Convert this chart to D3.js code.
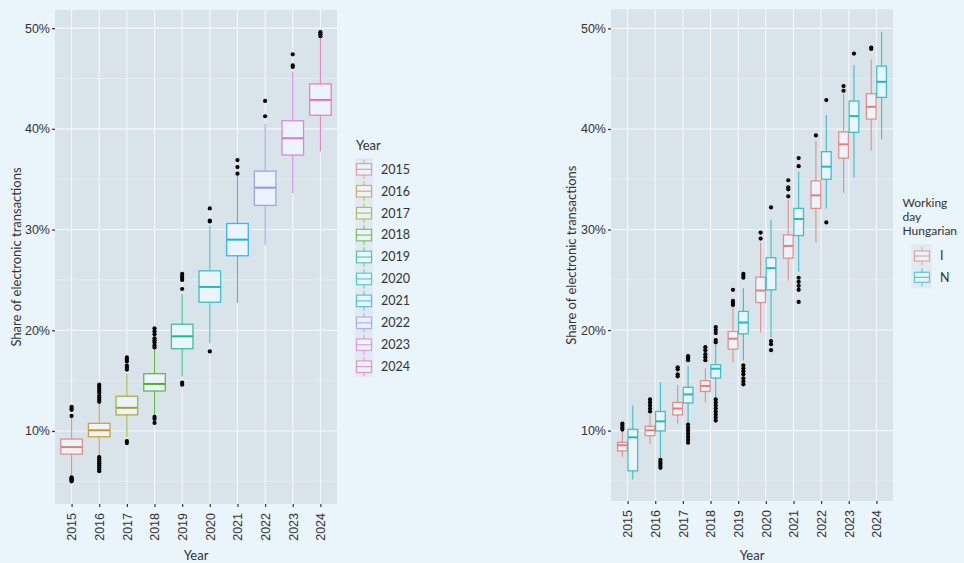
<!DOCTYPE html>
<html lang="en">
<head>
<meta charset="UTF-8">
<title>Share of electronic transactions</title>
<script src="https://d3js.org/d3.v7.min.js"></script>
<style>
    body { margin: 0; background: #EAF4FB; }
    svg { display: block; font-family: Lato, "Open Sans", sans-serif; }
</style>
</head>
<body>
<svg id="chart" width="964" height="563"></svg>
<script>
// ---- data (percent) ----
const years = ["2015","2016","2017","2018","2019","2020","2021","2022","2023","2024"];
const yearColors = ["#F8766D","#D89000","#A3A500","#39B600","#00BF7D","#00BFC4","#00B0F6","#9590FF","#E76BF3","#FF62BC"];
// [lower whisker, q1, median, q3, upper whisker]
const yearStats = [
    [5.6, 7.7, 8.4, 9.2, 11.3],
    [7.45, 9.43, 10.07, 10.76, 12.75],
    [9.4, 11.6, 12.3, 13.45, 15.7],
    [11.6, 13.97, 14.67, 15.69, 18.1],
    [15.4, 18.17, 19.4, 20.6, 23.6],
    [18.7, 22.78, 24.3, 25.9, 30.4],
    [22.7, 27.4, 29.0, 30.6, 35.3],
    [28.5, 32.4, 34.16, 35.8, 40.5],
    [33.6, 37.4, 39.07, 40.8, 45.7],
    [37.74, 41.35, 42.87, 44.46, 49.1]
];
const yearOutliers = [
    [12.4, 12.2, 12.1, 11.5, 5.4, 5.3, 5.2, 5.1, 5.0],
    [14.6, 14.4, 14.2, 14.0, 13.8, 13.5, 13.3, 13.1, 12.9, 7.4, 7.2, 7.0, 6.8, 6.6, 6.4, 6.2, 6.0],
    [17.3, 17.1, 16.9, 16.5, 16.3, 16.1, 9.0, 8.8],
    [20.2, 19.9, 19.6, 19.2, 19.0, 18.8, 18.5, 18.3, 11.4, 11.2, 10.8],
    [25.6, 25.4, 25.2, 25.0, 24.1, 14.8, 14.6],
    [32.1, 30.9, 30.8, 17.9],
    [36.9, 36.2, 35.55],
    [42.77, 41.25],
    [47.4, 46.3, 46.15],
    [49.6, 49.4, 49.2]
];

const dayGroups = ["I","N"];
const dayColors = ["#F8766D","#00BFC4"];
const dayStatsI = [
    [7.4, 7.98, 8.54, 8.84, 9.93],
    [8.7, 9.5, 10.03, 10.43, 11.6],
    [10.7, 11.56, 12.2, 12.8, 14.57],
    [12.8, 13.9, 14.44, 14.97, 16.2],
    [16.78, 18.1, 19.14, 19.86, 22.3],
    [19.76, 22.74, 23.93, 25.26, 28.7],
    [24.9, 27.15, 28.37, 29.46, 32.94],
    [28.7, 32.1, 33.4, 34.83, 38.8],
    [33.66, 37.1, 38.47, 39.7, 43.5],
    [37.84, 40.98, 42.2, 43.5, 46.9]
];
const dayStatsN = [
    [5.13, 6.0, 9.33, 10.13, 12.5],
    [7.12, 9.97, 10.92, 11.9, 14.8],
    [10.76, 12.75, 13.6, 14.3, 16.45],
    [13.25, 15.23, 16.16, 16.55, 18.7],
    [16.98, 19.63, 20.75, 21.85, 24.17],
    [19.2, 24.0, 26.16, 27.2, 31.0],
    [25.8, 29.4, 31.05, 32.1, 35.75],
    [32.1, 35.0, 36.25, 37.74, 41.38],
    [35.2, 39.66, 41.28, 42.77, 46.35],
    [38.97, 43.14, 44.69, 46.25, 49.66]
];
const dayOutliersI = [
    [10.7, 10.5, 10.3, 10.1],
    [13.1, 12.8, 12.5, 12.2, 11.9],
    [16.3, 16.1, 15.6, 15.4],
    [18.3, 18.0, 17.6, 17.3, 17.0],
    [24.0, 22.9, 22.7, 22.5],
    [29.7, 29.1],
    [34.9, 34.2, 34.0, 33.3],
    [39.36],
    [44.26, 43.8],
    [48.1, 47.95]
];
const dayOutliersN = [
    [],
    [7.1, 6.9, 6.7, 6.5, 6.3],
    [17.4, 17.2, 17.0, 10.6, 10.3, 10.0, 9.7, 9.4, 9.1, 8.8],
    [20.3, 20.0, 19.7, 19.0, 18.8, 13.1, 12.8, 12.5, 12.2, 11.9, 11.6, 11.3, 11.0],
    [25.6, 25.4, 25.2, 16.5, 16.2, 15.9, 15.6, 15.2, 14.9, 14.6],
    [32.2, 18.9, 18.6, 18.0],
    [37.1, 36.3, 25.2, 24.8, 24.4, 24.0, 22.8],
    [42.87, 30.7],
    [47.5],
    []
];
const majorTicks = [10, 20, 30, 40, 50];
const minorTicks = [5, 15, 25, 35, 45];

// ---- drawing ----
const svg = d3.select('#chart');
const panelFill = '#D9E3EA';
const boxFill = '#EBF4FB';
const textCol = '#333333';
// the reference strokes look a bit washed out
const mute = c => d3.interpolateRgb(c, '#9aa3ab')(0.22);

function panel(x0, x1, y0, y1, yDomain) {
    const x = d3.scalePoint().domain(years).range([x0, x1]).padding(0.6);
    const y = d3.scaleLinear().domain(yDomain).range([y1, y0]);
    const g = svg.append('g');
    g.append('rect').attr('x', x0).attr('y', y0).attr('width', x1 - x0).attr('height', y1 - y0).attr('fill', panelFill);
    g.selectAll('line.minor').data(minorTicks).join('line').attr('class', 'minor')
        .attr('x1', x0).attr('x2', x1).attr('y1', d => y(d)).attr('y2', d => y(d))
        .attr('stroke', '#EEF3F7').attr('stroke-width', 0.6);
    g.selectAll('line.major').data(majorTicks).join('line').attr('class', 'major')
        .attr('x1', x0).attr('x2', x1).attr('y1', d => y(d)).attr('y2', d => y(d))
        .attr('stroke', '#F4F8FB').attr('stroke-width', 1.1);
    g.selectAll('line.vmajor').data(years).join('line').attr('class', 'vmajor')
        .attr('x1', d => x(d)).attr('x2', d => x(d)).attr('y1', y0).attr('y2', y1)
        .attr('stroke', '#F4F8FB').attr('stroke-width', 1.1);

    // axes
    const yAxis = d3.axisLeft(y).tickValues(majorTicks).tickSize(3).tickPadding(2).tickFormat(d => d + '%');
    const ya = svg.append('g').attr('transform', `translate(${x0},0)`).call(yAxis);
    const xAxis = d3.axisBottom(x).tickSize(3).tickPadding(4);
    const xa = svg.append('g').attr('transform', `translate(0,${y1})`).call(xAxis);
    [ya, xa].forEach(a => {
        a.select('.domain').remove();
        a.selectAll('.tick line').attr('stroke', textCol).attr('stroke-width', 1.2);
        a.selectAll('.tick text').attr('fill', textCol).attr('font-size', 12.5);
    });
    xa.selectAll('.tick text')
        .attr('transform', 'rotate(-90)')
        .attr('text-anchor', 'end')
        .attr('x', -9).attr('y', 0).attr('dy', '0.35em');
    return {x, y, g};
}

function drawBox(g, cx, w, s, outl, color, y) {
    const c = mute(color);
    const b = g.append('g');
    b.append('line').attr('x1', cx).attr('x2', cx).attr('y1', y(s[0])).attr('y2', y(s[1]))
        .attr('stroke', c).attr('stroke-opacity', 0.85).attr('stroke-width', 1.1);
    b.append('line').attr('x1', cx).attr('x2', cx).attr('y1', y(s[3])).attr('y2', y(s[4]))
        .attr('stroke', c).attr('stroke-opacity', 0.85).attr('stroke-width', 1.1);
    b.append('rect').attr('x', cx - w / 2).attr('y', y(s[3])).attr('width', w).attr('height', y(s[1]) - y(s[3]))
        .attr('fill', boxFill).attr('stroke', c).attr('stroke-opacity', 0.85).attr('stroke-width', 1.3);
    b.append('line').attr('x1', cx - w / 2).attr('x2', cx + w / 2).attr('y1', y(s[2])).attr('y2', y(s[2]))
        .attr('stroke', c).attr('stroke-width', 2);
    b.selectAll('circle').data(outl).join('circle')
        .attr('cx', cx).attr('cy', d => y(d)).attr('r', 2.1).attr('fill', '#000');
}

function legendKey(g, cx, cy, w, h, color) {
    const c = mute(color);
    g.append('line').attr('x1', cx).attr('x2', cx).attr('y1', cy - h / 2 - 4).attr('y2', cy + h / 2 + 4)
        .attr('stroke', c).attr('stroke-opacity', 0.7).attr('stroke-width', 1);
    g.append('rect').attr('x', cx - w / 2).attr('y', cy - h / 2).attr('width', w).attr('height', h)
        .attr('fill', boxFill).attr('stroke', c).attr('stroke-opacity', 0.7).attr('stroke-width', 1.2);
    g.append('line').attr('x1', cx - w / 2).attr('x2', cx + w / 2).attr('y1', cy).attr('y2', cy)
        .attr('stroke', c).attr('stroke-opacity', 0.7).attr('stroke-width', 1.2);
}

function axisTitles(x0, x1, y0, y1, yx) {
    svg.append('text').attr('x', (x0 + x1) / 2).attr('y', 560).attr('text-anchor', 'middle')
        .attr('font-size', 13).attr('fill', textCol).text('Year');
    svg.append('text').attr('transform', `translate(${yx},${(y0 + y1) / 2}) rotate(-90)`)
        .attr('text-anchor', 'middle').attr('dy', '0.35em')
        .attr('font-size', 13).attr('fill', textCol).text('Share of electronic transactions');
}

// left panel
{
    const L = panel(55, 337, 10, 504, [2.75, 51.8]);
    const bw = L.x.step() * 0.78;
    years.forEach((yr, i) => drawBox(L.g, L.x(yr), bw, yearStats[i], yearOutliers[i], yearColors[i], L.y));
    axisTitles(55, 337, 10, 504, 16);

    const lg = svg.append('g');
    lg.append('text').attr('x', 356).attr('y', 150).attr('font-size', 13).attr('fill', textCol).text('Year');
    lg.append('rect').attr('x', 355).attr('y', 158).attr('width', 18).attr('height', 219).attr('fill', panelFill).attr('opacity', 0.6);
    years.forEach((yr, i) => {
        const cy = 169.3 + i * 21.93;
        legendKey(lg, 364, cy, 15, 11.5, yearColors[i]);
        lg.append('text').attr('x', 381).attr('y', cy).attr('dy', '0.35em')
            .attr('font-size', 12.5).attr('fill', textCol).text(yr);
    });
}

// right panel
{
    const R = panel(611, 893, 9.3, 501, [3.0, 51.9]);
    const step = R.x.step();
    const bw = step * 0.35;
    const off = step * 0.188;
    years.forEach((yr, i) => {
        drawBox(R.g, R.x(yr) - off, bw, dayStatsI[i], dayOutliersI[i], dayColors[0], R.y);
        drawBox(R.g, R.x(yr) + off, bw, dayStatsN[i], dayOutliersN[i], dayColors[1], R.y);
    });
    axisTitles(611, 893, 9.3, 501, 571);

    const lg = svg.append('g');
    ['Working', 'day', 'Hungarian'].forEach((t, i) => {
        lg.append('text').attr('x', 902.5).attr('y', 206.5 + i * 14).attr('font-size', 12)
            .attr('fill', textCol).text(t);
    });
    lg.append('rect').attr('x', 911.7).attr('y', 244.3).attr('width', 20).attr('height', 44).attr('fill', panelFill).attr('opacity', 0.6);
    dayGroups.forEach((d, i) => {
        const cy = 256 + i * 21.3;
        legendKey(lg, 922, cy, 15, 10, dayColors[i]);
        lg.append('text').attr('x', 940).attr('y', cy).attr('dy', '0.35em')
            .attr('font-size', 12.5).attr('fill', textCol).text(d);
    });
}
</script>
</body>
</html>
